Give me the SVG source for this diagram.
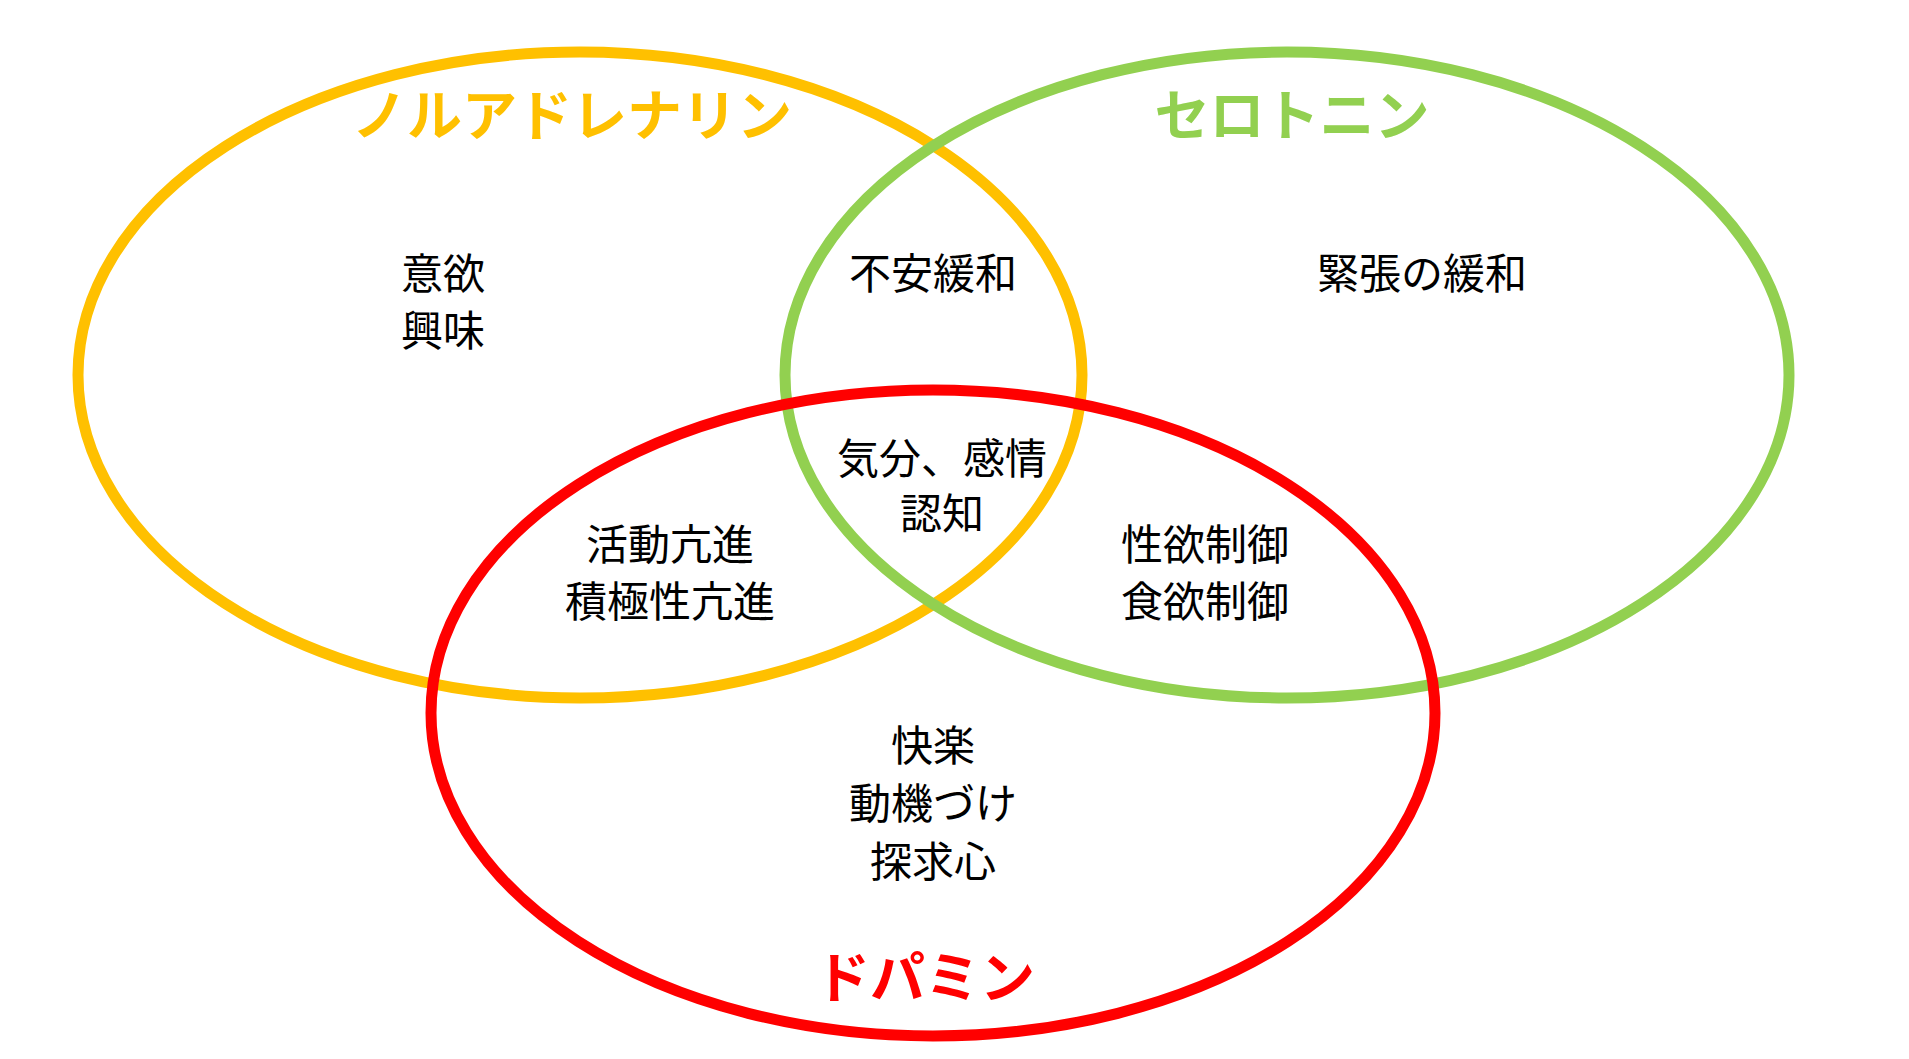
<svg xmlns="http://www.w3.org/2000/svg" width="1909" height="1059" viewBox="0 0 1909 1059">
<style>
.e{fill:none;stroke-width:11}
.t{font-family:"Noto Sans CJK JP",sans-serif;font-size:42px;fill:#000;text-anchor:middle;dominant-baseline:central}
.h{font-family:"Noto Sans CJK JP",sans-serif;font-size:55px;font-weight:bold;text-anchor:middle;dominant-baseline:central}
</style>
<rect width="1909" height="1059" fill="#fff"/>
<g id="connectors"/>
<g id="noradrenaline"><ellipse class="e" cx="580" cy="375" rx="502" ry="323" stroke="#FFC000"/><text class="h" x="572" y="111" fill="#FFC000">ノルアドレナリン</text></g>
<g id="serotonin"><ellipse class="e" cx="1287" cy="375" rx="502" ry="323" stroke="#92D050"/><text class="h" x="1292" y="111" fill="#92D050">セロトニン</text></g>
<g id="dopamine"><ellipse class="e" cx="933" cy="713" rx="502" ry="323" stroke="#FF0000"/><text class="h" x="925" y="973" fill="#FF0000">ドパミン</text></g>
<g id="labels">
<text class="t" x="443" y="270">意欲</text><text class="t" x="443" y="327">興味</text>
<text class="t" x="933" y="270">不安緩和</text>
<text class="t" x="1422" y="270">緊張の緩和</text>
<text class="t" x="942" y="455">気分、感情</text><text class="t" x="942" y="510">認知</text>
<text class="t" x="670" y="541">活動亢進</text><text class="t" x="670" y="598">積極性亢進</text>
<text class="t" x="1205" y="541">性欲制御</text><text class="t" x="1205" y="598">食欲制御</text>
<text class="t" x="933" y="742">快楽</text><text class="t" x="933" y="800">動機づけ</text><text class="t" x="933" y="858">探求心</text>
</g>
</svg>
